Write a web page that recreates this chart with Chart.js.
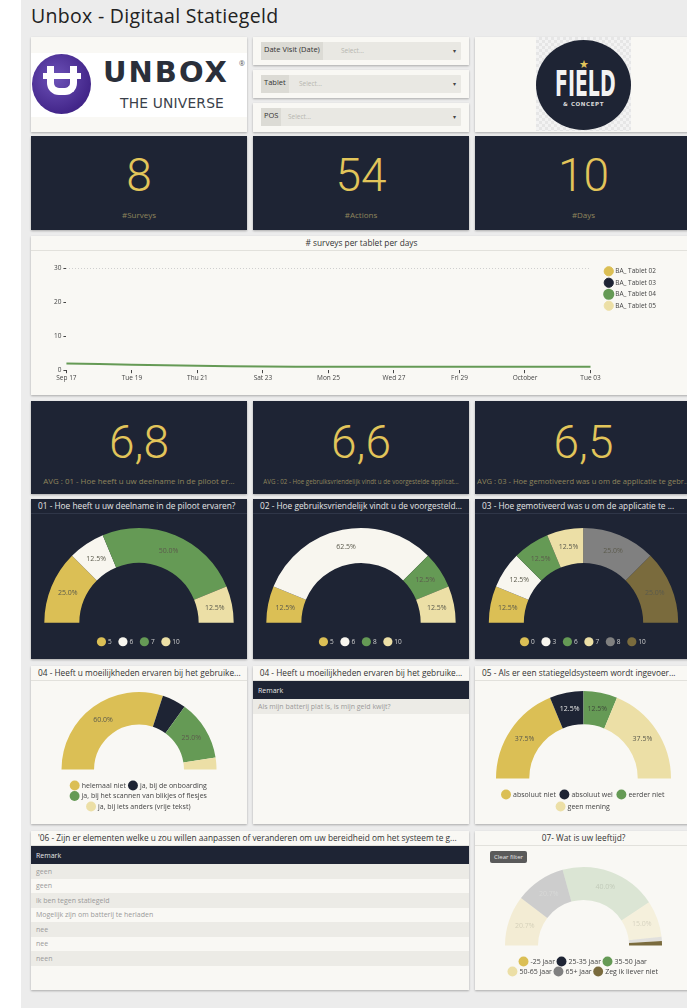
<!DOCTYPE html>
<html>
<head>
<meta charset="utf-8">
<title>Unbox - Digitaal Statiegeld</title>
<style>
  body { margin:0; width:687px; height:1008px; overflow:hidden; background:#fff; font-family:"Open Sans", sans-serif; position:relative; }
  .page { position:absolute; left:21px; top:0; width:700px; height:1008px; background:#ececec; }
  .pagetitle { position:absolute; left:31px; top:2px; font-size:19.5px; color:#222; letter-spacing:0.3px; }
  .card { position:absolute; background:#f9f8f4; box-shadow:0 1px 2px rgba(0,0,0,.28); overflow:hidden; }
  .dark { background:#1e2434; }
  .ctitle { position:absolute; left:0; right:0; top:0; height:14px; line-height:14px; font-size:8.3px; color:#333; padding-left:7px; border-bottom:1px solid #e2e1dc; white-space:nowrap; overflow:hidden; }
  .dark .ctitle { color:#e6e6e6; border-bottom:1px solid #2f3648; }
  .ctitle.center { text-align:center; padding-left:0; }
  .kpi .num { position:absolute; left:0; right:0; text-align:center; font-family:Roboto, sans-serif; font-weight:300; color:#e2c55a; }
  .kpi .lbl { position:absolute; left:0; right:0; text-align:center; font-size:8px; color:#8f845c; white-space:nowrap; overflow:hidden; }
  .filter .box { position:absolute; left:8px; right:8px; top:5px; height:18px; background:#e9e8e3; border-radius:1px; }
  .filter .name { position:absolute; left:0; top:0; bottom:0; padding:0 3px; background:#dcdbd5; font-size:7.5px; line-height:15px; color:#333; }
  .filter .sel { position:absolute; top:0; font-size:6.5px; line-height:17px; color:#b7b6b0; }
  .filter .caret { position:absolute; right:5px; top:0; font-size:6px; line-height:18px; color:#444; }
  .cv { position:absolute; }
  table.rm { position:absolute; left:0; right:0; border-collapse:collapse; width:100%; font-size:7px; color:#9a9a9a; }
  table.rm th { background:#1e2434; color:#e8e8e8; font-weight:normal; text-align:left; padding:0 5px; height:18px; }
  table.rm td { padding:0 5px; height:14.5px; }
  table.rm tr.o td { background:#ecebe6; }
  table.rm tr.e td { background:#f9f8f4; }
  .clear { position:absolute; left:15px; top:20px; background:#5a5a5a; color:#e6e6e6; font-size:6px; padding:2px 4px; border-radius:2px; }
</style>
</head>
<body>
<div class="page"></div>
<div class="pagetitle">Unbox - Digitaal Statiegeld</div>

<!-- logo Unbox -->
<div class="card" style="left:31px;top:37px;width:216px;height:95px;">
  <div style="position:absolute;left:0;top:16px;width:216px;height:64px;background:#fff;"></div>
  <div style="position:absolute;left:1px;top:17px;width:59px;height:60px;border-radius:50%;background:radial-gradient(circle at 40% 40%,#6d52b8,#43268a 70%,#3a1f7a);"></div>
  <div style="position:absolute;left:16px;top:29px;width:16px;height:22px;border:7px solid #fff;border-top:none;border-radius:0 0 12px 12px;"></div>
  <div style="position:absolute;left:12px;top:36px;width:38px;height:6px;background:#fff;"></div>
  <div style="position:absolute;left:72px;top:18px;font-family:'DejaVu Sans',sans-serif;font-weight:bold;font-size:29px;letter-spacing:2px;color:#2a2f3a;">UNBOX</div>
  <div style="position:absolute;left:208px;top:22px;font-size:7px;color:#555;">®</div>
  <div style="position:absolute;left:89px;top:58px;font-family:'DejaVu Sans',sans-serif;font-size:13.8px;color:#3a3f4a;letter-spacing:0.2px;">THE UNIVERSE</div>
</div>

<!-- filters -->
<div class="card filter" style="left:253px;top:37px;width:216px;height:28px;">
  <div class="box"><div class="name">Date Visit (Date)</div><div class="sel" style="left:80px;">Select...</div><div class="caret">▾</div></div>
</div>
<div class="card filter" style="left:253px;top:70px;width:216px;height:28px;">
  <div class="box"><div class="name">Tablet</div><div class="sel" style="left:38px;">Select...</div><div class="caret">▾</div></div>
</div>
<div class="card filter" style="left:253px;top:103px;width:216px;height:29px;">
  <div class="box"><div class="name">POS</div><div class="sel" style="left:27px;">Select...</div><div class="caret">▾</div></div>
</div>

<!-- logo Field -->
<div class="card" style="left:475px;top:37px;width:217px;height:95px;">
  <div style="position:absolute;left:61px;top:0;width:95px;height:94px;background-color:#f3f3f3;background-image:linear-gradient(45deg,#e6e6e6 25%,transparent 25%,transparent 75%,#e6e6e6 75%),linear-gradient(45deg,#e6e6e6 25%,transparent 25%,transparent 75%,#e6e6e6 75%);background-size:6px 6px;background-position:0 0,3px 3px;"></div>
  <div style="position:absolute;left:61px;top:3px;width:95px;height:90px;border-radius:50%;background:#1e2434;"></div>
  <div style="position:absolute;left:61px;width:95px;top:19px;text-align:center;color:#e2c55a;font-size:11px;">★</div>
  <div style="position:absolute;left:61px;width:95px;top:27px;text-align:center;color:#f2f2f2;font-family:'DejaVu Sans Condensed','DejaVu Sans',sans-serif;font-weight:bold;font-size:35px;line-height:40px;transform:scaleX(0.6);">FIELD</div>
  <div style="position:absolute;left:61px;width:95px;top:64px;text-align:center;color:#d8d8d8;font-family:'DejaVu Sans',sans-serif;font-weight:bold;font-size:5.5px;letter-spacing:0.6px;">&amp; CONCEPT</div>
</div>

<!-- KPI row 1 -->
<div class="card dark kpi" style="left:31px;top:136px;width:216px;height:94px;"><div class="num" id="k1" style="top:12px;font-size:46px;"></div><div class="lbl" id="kl1" style="top:73px;"></div></div>
<div class="card dark kpi" style="left:253px;top:136px;width:216px;height:94px;"><div class="num" id="k2" style="top:12px;font-size:46px;"></div><div class="lbl" id="kl2" style="top:73px;"></div></div>
<div class="card dark kpi" style="left:475px;top:136px;width:217px;height:94px;"><div class="num" id="k3" style="top:12px;font-size:46px;"></div><div class="lbl" id="kl3" style="top:73px;"></div></div>

<!-- line chart -->
<div class="card" style="left:31px;top:236px;width:661px;height:159px;">
  <div class="ctitle center"># surveys per tablet per days</div>
  <div class="cv" style="left:0;top:16px;width:661px;height:143px;"><canvas id="lineChart"></canvas></div>
</div>

<!-- KPI row 2 -->
<div class="card dark kpi" style="left:31px;top:401px;width:216px;height:93px;"><div class="num" id="a1" style="top:14px;font-size:46px;"></div><div class="lbl" id="al1" style="top:75px;font-size:7.9px;"></div></div>
<div class="card dark kpi" style="left:253px;top:401px;width:216px;height:93px;"><div class="num" id="a2" style="top:76px;font-size:6.2px;display:none;"></div><div class="num" id="a2n" style="top:14px;font-size:46px;"></div><div class="lbl" id="al2" style="top:76px;font-size:6.2px;"></div></div>
<div class="card dark kpi" style="left:475px;top:401px;width:217px;height:93px;"><div class="num" id="a3" style="top:14px;font-size:46px;"></div><div class="lbl" id="al3" style="top:75px;font-size:7.6px;"></div></div>

<!-- dark gauges -->
<div class="card dark" style="left:31px;top:499px;width:216px;height:160px;">
  <div class="ctitle">01 - Hoe heeft u uw deelname in de piloot ervaren?</div>
  <div class="cv" style="left:0;top:15px;width:216px;height:145px;"><canvas id="g1"></canvas></div>
</div>
<div class="card dark" style="left:253px;top:499px;width:216px;height:160px;">
  <div class="ctitle">02 - Hoe gebruiksvriendelijk vindt u de voorgesteld...</div>
  <div class="cv" style="left:0;top:15px;width:216px;height:145px;"><canvas id="g2"></canvas></div>
</div>
<div class="card dark" style="left:475px;top:499px;width:217px;height:160px;">
  <div class="ctitle">03 - Hoe gemotiveerd was u om de applicatie te ...</div>
  <div class="cv" style="left:0;top:15px;width:217px;height:145px;"><canvas id="g3"></canvas></div>
</div>

<!-- light row -->
<div class="card" style="left:31px;top:666px;width:216px;height:158px;">
  <div class="ctitle">04 - Heeft u moeilijkheden ervaren bij het gebruike...</div>
  <div class="cv" style="left:0;top:15px;width:216px;height:143px;"><canvas id="g4"></canvas></div>
</div>
<div class="card" style="left:253px;top:666px;width:216px;height:158px;">
  <div class="ctitle center">04 - Heeft u moeilijkheden ervaren bij het gebruike...</div>
  <table class="rm" style="top:15px;" id="t4"></table>
</div>
<div class="card" style="left:475px;top:666px;width:217px;height:158px;">
  <div class="ctitle">05 - Als er een statiegeldsysteem wordt ingevoer...</div>
  <div class="cv" style="left:0;top:15px;width:217px;height:143px;"><canvas id="g5"></canvas></div>
</div>

<!-- bottom row -->
<div class="card" style="left:31px;top:831px;width:438px;height:159px;">
  <div class="ctitle">'06 - Zijn er elementen welke u zou willen aanpassen of veranderen om uw bereidheid om het systeem te g...</div>
  <table class="rm" style="top:15px;" id="t6"></table>
</div>
<div class="card" style="left:475px;top:831px;width:217px;height:159px;">
  <div class="ctitle center">07- Wat is uw leeftijd?</div>
  <div class="cv" style="left:0;top:15px;width:217px;height:144px;"><canvas id="g7"></canvas></div>
  <div class="clear">Clear filter</div>
</div>

<script src="https://cdn.jsdelivr.net/npm/chart.js@4.4.1/dist/chart.umd.min.js"></script>
<script>
// kpi values
const kpiValues = ['8', '54', '10'];
const kpiLabels = ['#Surveys', '#Actions', '#Days'];
const avgValues = ['6,8', '6,6', '6,5'];
const avgLabels = [
  'AVG : 01 - Hoe heeft u uw deelname in de piloot er...',
  'AVG : 02 - Hoe gebruiksvriendelijk vindt u de voorgestelde applicat...',
  'AVG : 03 - Hoe gemotiveerd was u om de applicatie te gebr...'
];

// line chart
const dayLabels = ['Sep 17', 'Tue 19', 'Thu 21', 'Sat 23', 'Mon 25', 'Wed 27', 'Fri 29', 'October', 'Tue 03'];
const tabletNames = ['BA_ Tablet 02', 'BA_ Tablet 03', 'BA_ Tablet 04', 'BA_ Tablet 05'];
const tablet02 = [];
const tablet03 = [];
const tablet04 = [2, 1.6, 1.3, 1.1, 1, 1, 1, 1, 1];
const tablet05 = [];

// gauges
const q1Labels = ['5', '6', '7', '10'];
const q1Values = [25, 12.5, 50, 12.5];
const q2Labels = ['5', '6', '8', '10'];
const q2Values = [12.5, 62.5, 12.5, 12.5];
const q3Labels = ['0', '3', '6', '7', '8', '10'];
const q3Values = [12.5, 12.5, 12.5, 12.5, 25, 25];
const q4Labels = ['helemaal niet', 'ja, bij de onboarding', 'ja, bij het scannen van blikjes of flesjes', 'ja, bij iets anders (vrije tekst)'];
const q4Values = [60, 10, 25, 5];
const q5Labels = ['absoluut niet', 'absoluut wel', 'eerder niet', 'geen mening'];
const q5Values = [37.5, 12.5, 12.5, 37.5];
const q7Labels = ['-25 jaar', '25-35 jaar', '35-50 jaar', '50-65 jaar', '65+ jaar', 'Zeg ik liever niet'];
const q7Values = [20.7, 20.7, 40.0, 15.0, 1.8, 1.8];

// remarks
const remarks04 = ['Als mijn batterij plat is, is mijn geld kwijt?'];
const remarks06 = ['geen', 'geen', 'ik ben tegen statiegeld', 'Mogelijk zijn om batterij te herladen', 'nee', 'nee', 'neen'];

const GOLD = '#dbbf55', NAVY = '#1e2434', GREEN = '#659a55', BEIGE = '#ecdfa6',
      WHITE = '#f8f6ef', GREY = '#808080', OLIVE = '#7a6b3d';
const FONT = '"Open Sans", sans-serif';

kpiValues.forEach((v, i) => {
  document.getElementById('k' + (i + 1)).textContent = v;
  document.getElementById('kl' + (i + 1)).textContent = kpiLabels[i];
});
document.getElementById('a1').textContent = avgValues[0];
document.getElementById('a2n').textContent = avgValues[1];
document.getElementById('a3').textContent = avgValues[2];
avgLabels.forEach((t, i) => { document.getElementById('al' + (i + 1)).textContent = t; });

function fillTable(id, rows) {
  let html = '<tr><th>Remark</th></tr>';
  rows.forEach((r, i) => { html += '<tr class="' + (i % 2 ? 'e' : 'o') + '"><td>' + r + '</td></tr>'; });
  document.getElementById(id).innerHTML = html;
}
fillTable('t4', remarks04);
fillTable('t6', remarks06);

// line chart
new Chart(document.getElementById('lineChart'), {
  type: 'line',
  data: {
    labels: dayLabels,
    datasets: [
      { label: tabletNames[0], data: tablet02, borderColor: GOLD, backgroundColor: GOLD },
      { label: tabletNames[1], data: tablet03, borderColor: NAVY, backgroundColor: NAVY },
      { label: tabletNames[2], data: tablet04, borderColor: GREEN, backgroundColor: GREEN, borderWidth: 2, tension: 0.4, pointRadius: 0 },
      { label: tabletNames[3], data: tablet05, borderColor: BEIGE, backgroundColor: BEIGE }
    ]
  },
  options: {
    responsive: true,
    maintainAspectRatio: false,
    animation: false,
    layout: { padding: { left: 21, right: 26, top: 11, bottom: 12 } },
    plugins: {
      legend: {
        position: 'right', align: 'start',
        labels: { usePointStyle: true, pointStyle: 'circle', boxWidth: 7, boxHeight: 7, padding: 5, font: { size: 6.5, family: FONT }, color: '#444' }
      },
      tooltip: { enabled: false }
    },
    scales: {
      x: {
        grid: { drawOnChartArea: false, tickLength: 3, tickColor: '#444' },
        border: { display: false },
        ticks: { font: { size: 6.5, family: FONT }, color: '#444', maxRotation: 0, padding: 1 }
      },
      xTop: {
        position: 'top', display: true,
        grid: { display: false }, border: { display: false }, ticks: { display: false },
        afterFit: s => { s.height = 5; }
      },
      y: {
        min: 0, max: 30,
        grid: { color: c => c.tick.value === 30 ? '#cfcfcf' : 'rgba(0,0,0,0)', tickColor: '#444', tickLength: 3 },
        border: { display: false, dash: [1, 2] },
        ticks: { stepSize: 10, font: { size: 6.5, family: FONT }, color: '#444', padding: 2 }
      },
      yRight: {
        position: 'right', display: true,
        grid: { display: false }, border: { display: false }, ticks: { display: false },
        afterFit: s => { s.width = 10; }
      }
    }
  }
});

// percentage labels on arcs
const arcLabels = {
  id: 'arcLabels',
  afterDatasetsDraw(chart) {
    const ds = chart.data.datasets[0];
    const meta = chart.getDatasetMeta(0);
    const total = ds.data.reduce((a, b) => a + b, 0);
    const ctx = chart.ctx;
    ctx.save();
    ctx.font = '7px ' + FONT;
    ctx.textAlign = 'center';
    ctx.textBaseline = 'middle';
    meta.data.forEach((arc, i) => {
      const v = ds.data[i];
      if (v / total < 0.11) return;
      const p = arc.tooltipPosition();
      ctx.fillStyle = ds.labelColors ? ds.labelColors[i] : '#5b5a4c';
      ctx.fillText((v / total * 100).toFixed(1) + '%', p.x, p.y);
    });
    ctx.restore();
  }
};

// o: padding, legend spacing, legend offset (title height), font size
function gauge(id, labels, values, colors, o) {
  const legendColors = o.legendColors || colors;
  const textColor = o.legendText || '#444';
  return new Chart(document.getElementById(id), {
    type: 'doughnut',
    data: {
      labels: labels,
      datasets: [{
        data: values,
        backgroundColor: colors,
        borderWidth: 0,
        labelColors: o.labelColors
      }]
    },
    options: {
      responsive: true,
      maintainAspectRatio: false,
      animation: false,
      rotation: -90,
      circumference: 180,
      cutout: o.cutout || '63%',
      layout: { padding: o.padding },
      plugins: {
        tooltip: { enabled: false },
        legend: {
          position: 'bottom',
          title: { display: true, text: '', padding: 0, font: { size: o.gap / 1.2, family: FONT } },
          labels: {
            usePointStyle: true, pointStyle: 'circle', boxWidth: o.font, boxHeight: o.font, padding: o.spacing,
            font: { size: o.font, family: FONT }, color: textColor,
            generateLabels: chart => labels.map((l, i) => ({
              text: l, fillStyle: legendColors[i], strokeStyle: legendColors[i], lineWidth: 0,
              pointStyle: 'circle', fontColor: textColor, index: i, hidden: false
            }))
          }
        }
      }
    },
    plugins: [arcLabels]
  });
}

const darkOpts = { legendText: '#cfcfcf', padding: { top: 14, bottom: 4, left: 0, right: 0 }, spacing: 8, gap: 7.8, font: 6.5 };
gauge('g1', q1Labels, q1Values, [GOLD, WHITE, GREEN, BEIGE], darkOpts);
gauge('g2', q2Labels, q2Values, [GOLD, WHITE, GREEN, BEIGE], darkOpts);
gauge('g3', q3Labels, q3Values, [GOLD, WHITE, GREEN, BEIGE, GREY, OLIVE], darkOpts);
gauge('g4', q4Labels, q4Values, [GOLD, NAVY, GREEN, BEIGE],
  { padding: { top: 11, bottom: 4, left: 0, right: 0 }, spacing: 3.5, gap: 9, font: 7, cutout: '58%' });
gauge('g5', q5Labels, q5Values, [GOLD, NAVY, GREEN, BEIGE],
  { labelColors: ['#5b5a4c', '#e6e6e6', '#3f4a3a', '#5b5a4c'], padding: { top: 10, bottom: 4, left: 0, right: 0 }, spacing: 5, gap: 7.5, font: 7, cutout: '62%' });
gauge('g7', q7Labels, q7Values,
  ['rgba(219,191,85,0.2)', 'rgba(30,36,52,0.2)', 'rgba(101,154,85,0.2)', 'rgba(236,223,166,0.3)', 'rgba(128,128,128,0.2)', OLIVE],
  { legendColors: [GOLD, NAVY, GREEN, BEIGE, GREY, OLIVE],
    labelColors: ['rgba(91,90,76,0.2)', 'rgba(255,255,255,0.2)', 'rgba(91,90,76,0.2)', 'rgba(91,90,76,0.2)', 'rgba(0,0,0,0)', 'rgba(0,0,0,0)'],
    padding: { top: 21, bottom: 5, left: 20, right: 20 }, spacing: 3, gap: 9.5, font: 7, cutout: '58%' });
</script>
</body>
</html>
